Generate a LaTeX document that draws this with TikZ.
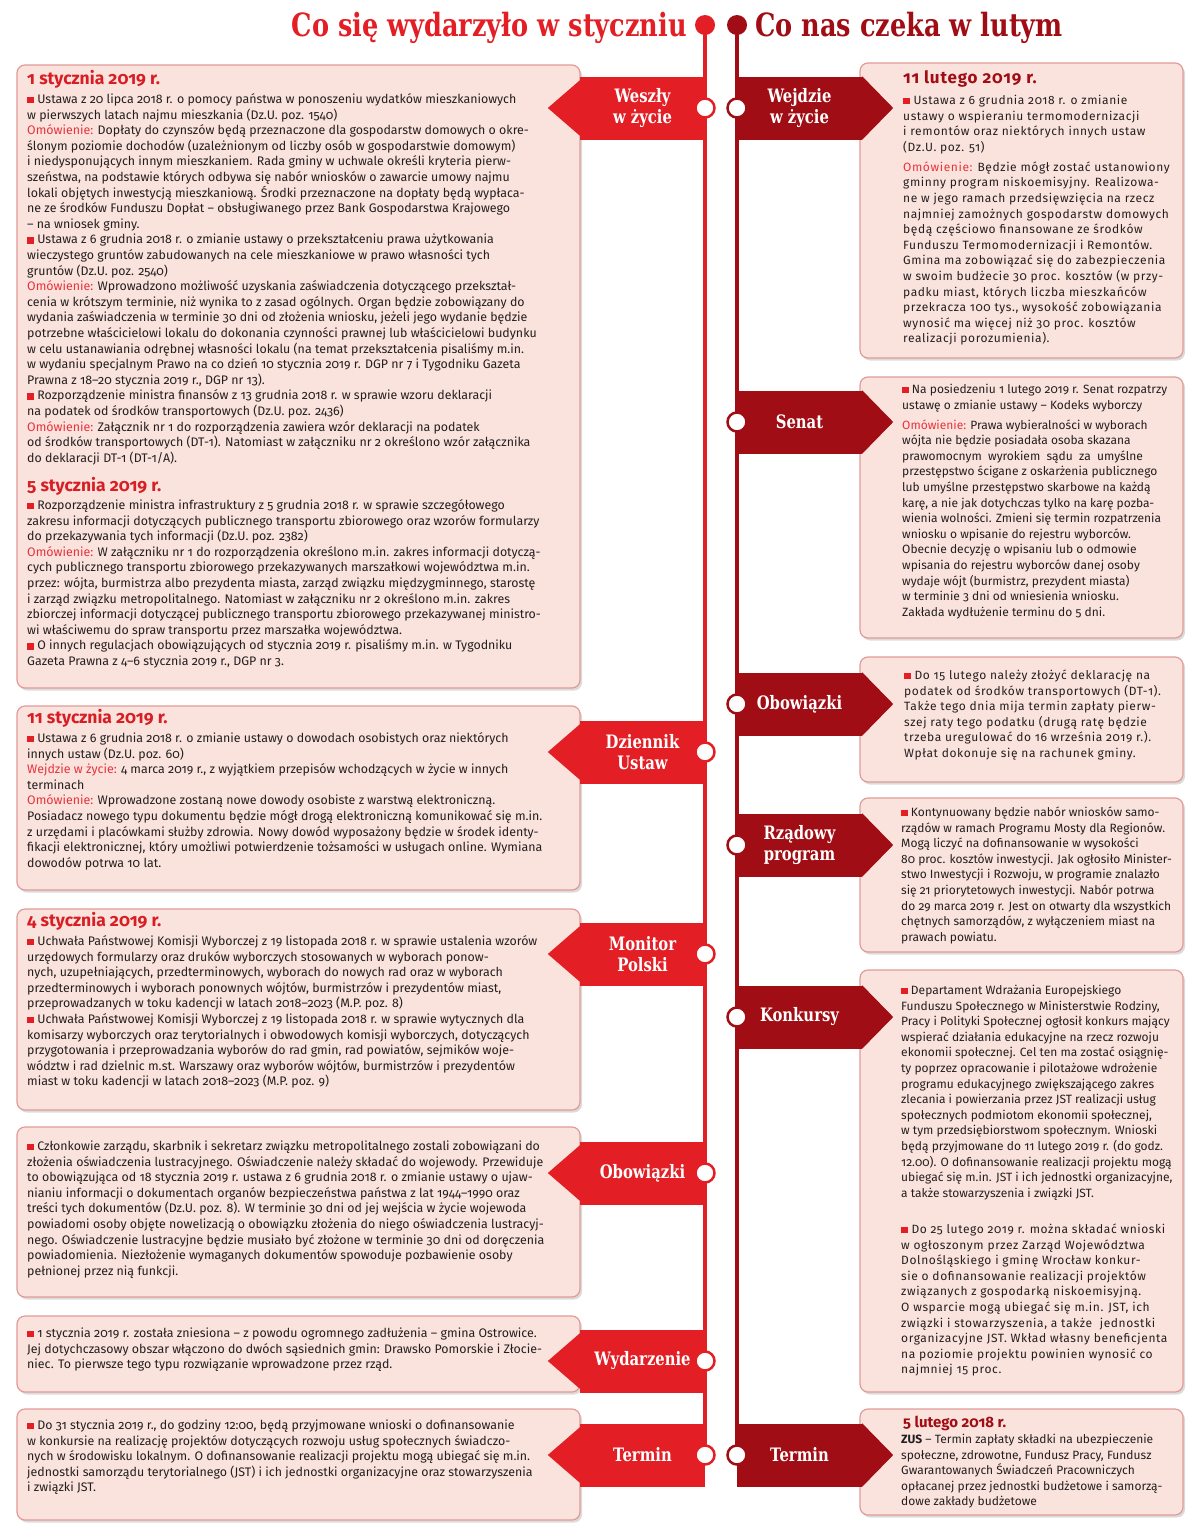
\documentclass[tikz,border=0pt]{standalone}
\usepackage{fontspec}
\setmainfont{Fira Sans}[Numbers=OldStyle]
\newfontfamily\spacedfont{Fira Sans}[Numbers=OldStyle,LetterSpace=5]
\newfontfamily\slabfont{DejaVu Serif}[FakeStretch=0.8]
\usetikzlibrary{positioning,shadows,backgrounds,calc}

\definecolor{lred}{HTML}{E31E24}
\definecolor{dred}{HTML}{A00D14}
\definecolor{boxfill}{HTML}{FBE3DD}
\definecolor{boxline}{HTML}{E09A98}
\definecolor{omred}{HTML}{E8323C}
\definecolor{headred}{HTML}{D81E25}
\definecolor{sqred}{HTML}{E31E24}
\definecolor{ink}{HTML}{231F20}

\newcommand\bsq{\textcolor{sqred}{\rule{0.55em}{0.55em}}}
\newcommand\omw{\textcolor{omred}{Omówienie:}}
\newcommand\wzyc{\textcolor{omred}{Wejdzie w życie:}}

\tikzset{
  box/.style={draw=boxline, fill=boxfill, line width=1.2pt, rounded corners=8pt,
    drop shadow={shadow xshift=2pt, shadow yshift=-2.5pt, fill=black!40, opacity=.35}},
  txt/.style={anchor=north west, inner sep=0pt, align=left, text=ink,
    font=\fontsize{12.4}{15.6}\selectfont},
  rtxt/.style={txt, font=\fontsize{12}{15.6}\selectfont},
  wtxt/.style={txt, font=\spacedfont\fontsize{12}{15.6}\selectfont},
  date/.style={anchor=west, inner sep=0pt, text=headred, font=\fontsize{17.5}{20}\selectfont\bfseries},
  lban/.style={fill=lred, minimum width=125pt, minimum height=63pt, inner sep=0pt, text=white,
    align=center, font=\slabfont\bfseries\fontsize{18.5}{20.5}\selectfont},
  rban/.style={lban, fill=dred},
  lring/.style={circle, minimum size=19pt, inner sep=0pt, fill=white, draw=lred, line width=2.5pt},
  rring/.style={lring, draw=dred},
  titl/.style={inner sep=0pt, font=\slabfont\bfseries\fontsize{32}{36}\selectfont}
}

\begin{document}
\begin{tikzpicture}[x=1pt, y=-1pt]
  \useasboundingbox (0,0) rectangle (1200,1531);

  % titles
  \node[circle, fill=lred, minimum size=20pt, inner sep=0pt] (ltop) at (705,25) {};
  \node[circle, fill=dred, minimum size=20pt, inner sep=0pt] (rtop) at (737,25) {};
  \node[titl, text=lred, anchor=base east] (ltitle) at (687,36) {Co się wydarzyło w styczniu};
  \node[titl, text=dred, anchor=base west] (rtitle) at (755,36) {Co nas czeka w lutym};

  % January boxes
  \draw[box] (17,65) rectangle (580,688);
  \draw[box] (17,706) rectangle (580,890);
  \draw[box] (17,909) rectangle (580,1110);
  \draw[box] (17,1127) rectangle (580,1297);
  \draw[box] (17,1316) rectangle (580,1392);
  \draw[box] (17,1409) rectangle (580,1520);

  % February boxes
  \draw[box] (860,63) rectangle (1183,358);
  \draw[box] (860,377) rectangle (1183,638);
  \draw[box] (860,657) rectangle (1183,782);
  \draw[box] (860,798) rectangle (1183,952);
  \draw[box] (860,970) rectangle (1183,1392);
  \draw[box] (860,1409) rectangle (1183,1515);

  % banners
  \foreach \y/\n/\t in {108/wesz/{Weszły\\w życie}, 752/dzien/{Dziennik\\Ustaw},
      954/monit/{Monitor\\Polski}, 1173/obowL/{Obowiązki}, 1361/wydarz/{Wydarzenie},
      1455/termL/{Termin}} {
    \node[lban] (\n) at (642.5,\y) {\t};
    \fill[lred] ([yshift=-4pt]\n.north west) -- ([xshift=-32pt]\n.west)
      -- ([yshift=4pt]\n.south west) -- cycle;
    \node[lring] (c\n) at (705,\y) {};
  }
  \foreach \y/\n/\t in {108/wejdz/{Wejdzie\\w życie}, 422/senat/{Senat},
      704/obowR/{Obowiązki}, 845/rzad/{Rządowy\\program}, 1017/konk/{Konkursy},
      1455/termR/{Termin}} {
    \node[rban] (\n) at (799.5,\y) {\t};
    \fill[dred] (\n.north east) -- ([xshift=31pt]\n.east) -- (\n.south east) -- cycle;
    \node[rring] (c\n) at (737,\y) {};
  }

  \begin{scope}[on background layer]
    \draw[lred, line width=4pt] (ltop.center) -- (ctermL.center);
    \draw[dred, line width=4pt] (rtop.center) -- (ctermR.center);
  \end{scope}

  % texts, January
  \node[date] (d1) at (27,79) {1 stycznia 2019 r.};
  \node[txt] (t1) at (27,92.3) {\strut\bsq{} Ustawa z 20 lipca 2018 r. o pomocy państwa w ponoszeniu wydatków mieszkaniowych\\
w pierwszych latach najmu mieszkania (Dz.U. poz. 1540)\\
\omw{} Dopłaty do czynszów będą przeznaczone dla gospodarstw domowych o okre-\\
ślonym poziomie dochodów (uzależnionym od liczby osób w gospodarstwie domowym)\\
i niedysponujących innym mieszkaniem. Rada gminy w uchwale określi kryteria pierw-\\
szeństwa, na podstawie których odbywa się nabór wniosków o zawarcie umowy najmu\\
lokali objętych inwestycją mieszkaniową. Środki przeznaczone na dopłaty będą wypłaca-\\
ne ze środków Funduszu Dopłat – obsługiwanego przez Bank Gospodarstwa Krajowego\\
– na wniosek gminy.\\
\bsq{} Ustawa z 6 grudnia 2018 r. o zmianie ustawy o przekształceniu prawa użytkowania\\
wieczystego gruntów zabudowanych na cele mieszkaniowe w prawo własności tych\\
gruntów (Dz.U. poz. 2540)\\
\omw{} Wprowadzono możliwość uzyskania zaświadczenia dotyczącego przekształ-\\
cenia w krótszym terminie, niż wynika to z zasad ogólnych. Organ będzie zobowiązany do\\
wydania zaświadczenia w terminie 30 dni od złożenia wniosku, jeżeli jego wydanie będzie\\
potrzebne właścicielowi lokalu do dokonania czynności prawnej lub właścicielowi budynku\\
w celu ustanawiania odrębnej własności lokalu (na temat przekształcenia pisaliśmy m.in.\\
w wydaniu specjalnym Prawo na co dzień 10 stycznia 2019 r. DGP nr 7 i Tygodniku Gazeta\\
Prawna z 18–20 stycznia 2019 r., DGP nr 13).\\
\bsq{} Rozporządzenie ministra finansów z 13 grudnia 2018 r. w sprawie wzoru deklaracji\\
na podatek od środków transportowych (Dz.U. poz. 2436)\\
\omw{} Załącznik nr 1 do rozporządzenia zawiera wzór deklaracji na podatek\\
od środków transportowych (DT-1). Natomiast w załączniku nr 2 określono wzór załącznika\\
do deklaracji DT-1 (DT-1/A).};
  \node[date] (d2) at (27,486) {5 stycznia 2019 r.};
  \node[txt] (t2) at (27,498.3) {\strut\bsq{} Rozporządzenie ministra infrastruktury z 5 grudnia 2018 r. w sprawie szczegółowego\\
zakresu informacji dotyczących publicznego transportu zbiorowego oraz wzorów formularzy\\
do przekazywania tych informacji (Dz.U. poz. 2382)\\
\omw{} W załączniku nr 1 do rozporządzenia określono m.in. zakres informacji dotyczą-\\
cych publicznego transportu zbiorowego przekazywanych marszałkowi województwa m.in.\\
przez: wójta, burmistrza albo prezydenta miasta, zarząd związku międzygminnego, starostę\\
i zarząd związku metropolitalnego. Natomiast w załączniku nr 2 określono m.in. zakres\\
zbiorczej informacji dotyczącej publicznego transportu zbiorowego przekazywanej ministro-\\
wi właściwemu do spraw transportu przez marszałka województwa.\\
\bsq{} O innych regulacjach obowiązujących od stycznia 2019 r. pisaliśmy m.in. w Tygodniku\\
Gazeta Prawna z 4–6 stycznia 2019 r., DGP nr 3.};

  \node[date] (d3) at (27,718) {11 stycznia 2019 r.};
  \node[txt] (t3) at (27,731.3) {\strut\bsq{} Ustawa z 6 grudnia 2018 r. o zmianie ustawy o dowodach osobistych oraz niektórych\\
innych ustaw (Dz.U. poz. 60)\\
\wzyc{} 4 marca 2019 r., z wyjątkiem przepisów wchodzących w życie w innych\\
terminach\\
\omw{} Wprowadzone zostaną nowe dowody osobiste z warstwą elektroniczną.\\
Posiadacz nowego typu dokumentu będzie mógł drogą elektroniczną komunikować się m.in.\\
z urzędami i placówkami służby zdrowia. Nowy dowód wyposażony będzie w środek identy-\\
fikacji elektronicznej, który umożliwi potwierdzenie tożsamości w usługach online. Wymiana\\
dowodów potrwa 10 lat.};

  \node[date] (d4) at (27,921) {4 stycznia 2019 r.};
  \node[txt] (t4) at (27,934.3) {\strut\bsq{} Uchwała Państwowej Komisji Wyborczej z 19 listopada 2018 r. w sprawie ustalenia wzorów\\
urzędowych formularzy oraz druków wyborczych stosowanych w wyborach ponow-\\
nych, uzupełniających, przedterminowych, wyborach do nowych rad oraz w wyborach\\
przedterminowych i wyborach ponownych wójtów, burmistrzów i prezydentów miast,\\
przeprowadzanych w toku kadencji w latach 2018–2023 (M.P. poz. 8)\\
\bsq{} Uchwała Państwowej Komisji Wyborczej z 19 listopada 2018 r. w sprawie wytycznych dla\\
komisarzy wyborczych oraz terytorialnych i obwodowych komisji wyborczych, dotyczących\\
przygotowania i przeprowadzania wyborów do rad gmin, rad powiatów, sejmików woje-\\
wództw i rad dzielnic m.st. Warszawy oraz wyborów wójtów, burmistrzów i prezydentów\\
miast w toku kadencji w latach 2018–2023 (M.P. poz. 9)};

  \node[txt] (t5) at (27,1139.3) {\strut\bsq{} Członkowie zarządu, skarbnik i sekretarz związku metropolitalnego zostali zobowiązani do\\
złożenia oświadczenia lustracyjnego. Oświadczenie należy składać do wojewody. Przewiduje\\
to obowiązująca od 18 stycznia 2019 r. ustawa z 6 grudnia 2018 r. o zmianie ustawy o ujaw-\\
nianiu informacji o dokumentach organów bezpieczeństwa państwa z lat 1944–1990 oraz\\
treści tych dokumentów (Dz.U. poz. 8). W terminie 30 dni od jej wejścia w życie wojewoda\\
powiadomi osoby objęte nowelizacją o obowiązku złożenia do niego oświadczenia lustracyj-\\
nego. Oświadczenie lustracyjne będzie musiało być złożone w terminie 30 dni od doręczenia\\
powiadomienia. Niezłożenie wymaganych dokumentów spowoduje pozbawienie osoby\\
pełnionej przez nią funkcji.};

  \node[txt] (t6) at (27,1326.3) {\strut\bsq{} 1 stycznia 2019 r. została zniesiona – z powodu ogromnego zadłużenia – gmina Ostrowice.\\
Jej dotychczasowy obszar włączono do dwóch sąsiednich gmin: Drawsko Pomorskie i Złocie-\\
niec. To pierwsze tego typu rozwiązanie wprowadzone przez rząd.};

  \node[txt] (t7) at (27,1418.3) {\strut\bsq{} Do 31 stycznia 2019 r., do godziny 12:00, będą przyjmowane wnioski o dofinansowanie\\
w konkursie na realizację projektów dotyczących rozwoju usług społecznych świadczo-\\
nych w środowisku lokalnym. O dofinansowanie realizacji projektu mogą ubiegać się m.in.\\
jednostki samorządu terytorialnego (JST) i ich jednostki organizacyjne oraz stowarzyszenia\\
i związki JST.};

  % texts, February
  \node[date, text=dred, font=\spacedfont\fontsize{17}{20}\selectfont\bfseries] (d5) at (903,79) {11 lutego 2019 r.};
  \node[wtxt] (t8) at (903,93.3) {\strut\bsq{} Ustawa z 6 grudnia 2018 r. o zmianie\\
ustawy o wspieraniu termomodernizacji\\
i remontów oraz niektórych innych ustaw\\
(Dz.U. poz. 51)\\[4.4pt]
\omw{} Będzie mógł zostać ustanowiony\\
gminny program niskoemisyjny. Realizowa-\\
ne w jego ramach przedsięwzięcia na rzecz\\
najmniej zamożnych gospodarstw domowych\\
będą częściowo finansowane ze środków\\
Funduszu Termomodernizacji i Remontów.\\
Gmina ma zobowiązać się do zabezpieczenia\\
w swoim budżecie 30 proc. kosztów (w przy-\\
padku miast, których liczba mieszkańców\\
przekracza 100 tys., wysokość zobowiązania\\
wynosić ma więcej niż 30 proc. kosztów\\
realizacji porozumienia).};

  \node[rtxt] (t9) at (902,382.3) {\strut\bsq{} Na posiedzeniu 1 lutego 2019 r. Senat rozpatrzy\\
ustawę o zmianie ustawy – Kodeks wyborczy\\[4.4pt]
\omw{} Prawa wybieralności w wyborach\\
wójta nie będzie posiadała osoba skazana\\
prawomocnym \ wyrokiem \ sądu \ za \ umyślne\\
przestępstwo ścigane z oskarżenia publicznego\\
lub umyślne przestępstwo skarbowe na każdą\\
karę, a nie jak dotychczas tylko na karę pozba-\\
wienia wolności. Zmieni się termin rozpatrzenia\\
wniosku o wpisanie do rejestru wyborców.\\
Obecnie decyzję o wpisaniu lub o odmowie\\
wpisania do rejestru wyborców danej osoby\\
wydaje wójt (burmistrz, prezydent miasta)\\
w terminie 3 dni od wniesienia wniosku.\\
Zakłada wydłużenie terminu do 5 dni.};

  \node[wtxt] (t10) at (904,668.3) {\strut\bsq{} Do 15 lutego należy złożyć deklarację na\\
podatek od środków transportowych (DT-1).\\
Także tego dnia mija termin zapłaty pierw-\\
szej raty tego podatku (drugą ratę będzie\\
trzeba uregulować do 16 września 2019 r.).\\
Wpłat dokonuje się na rachunek gminy.};

  \node[rtxt] (t11) at (901,805.3) {\strut\bsq{} Kontynuowany będzie nabór wniosków samo-\\
rządów w ramach Programu Mosty dla Regionów.\\
Mogą liczyć na dofinansowanie w wysokości\\
80 proc. kosztów inwestycji. Jak ogłosiło Minister-\\
stwo Inwestycji i Rozwoju, w programie znalazło\\
się 21 priorytetowych inwestycji. Nabór potrwa\\
do 29 marca 2019 r. Jest on otwarty dla wszystkich\\
chętnych samorządów, z wyłączeniem miast na\\
prawach powiatu.};

  \node[rtxt] (t12) at (901,983.3) {\strut\bsq{} Departament Wdrażania Europejskiego\\
Funduszu Społecznego w Ministerstwie Rodziny,\\
Pracy i Polityki Społecznej ogłosił konkurs mający\\
wspierać działania edukacyjne na rzecz rozwoju\\
ekonomii społecznej. Cel ten ma zostać osiągnię-\\
ty poprzez opracowanie i pilotażowe wdrożenie\\
programu edukacyjnego zwiększającego zakres\\
zlecania i powierzania przez JST realizacji usług\\
społecznych podmiotom ekonomii społecznej,\\
w tym przedsiębiorstwom społecznym. Wnioski\\
będą przyjmowane do 11 lutego 2019 r. (do godz.\\
12.00). O dofinansowanie realizacji projektu mogą\\
ubiegać się m.in. JST i ich jednostki organizacyjne,\\
a także stowarzyszenia i związki JST.};
  \node[wtxt] (t13) at (901,1222.3) {\strut\bsq{} Do 25 lutego 2019 r. można składać wnioski\\
w ogłoszonym przez Zarząd Województwa\\
Dolnośląskiego i gminę Wrocław konkur-\\
sie o dofinansowanie realizacji projektów\\
związanych z gospodarką niskoemisyjną.\\
O wsparcie mogą ubiegać się m.in. JST, ich\\
związki i stowarzyszenia, a także \ jednostki\\
organizacyjne JST. Wkład własny beneficjenta\\
na poziomie projektu powinien wynosić co\\
najmniej 15 proc.};

  \node[date, text=dred, font=\fontsize{15}{18}\selectfont\bfseries] (d6) at (903,1423) {5 lutego 2018 r.};
  \node[rtxt] (t14) at (901,1432.3) {\strut\textbf{ZUS} – Termin zapłaty składki na ubezpieczenie\\
społeczne, zdrowotne, Fundusz Pracy, Fundusz\\
Gwarantowanych Świadczeń Pracowniczych\\
opłacanej przez jednostki budżetowe i samorzą-\\
dowe zakłady budżetowe};
\end{tikzpicture}
\end{document}
